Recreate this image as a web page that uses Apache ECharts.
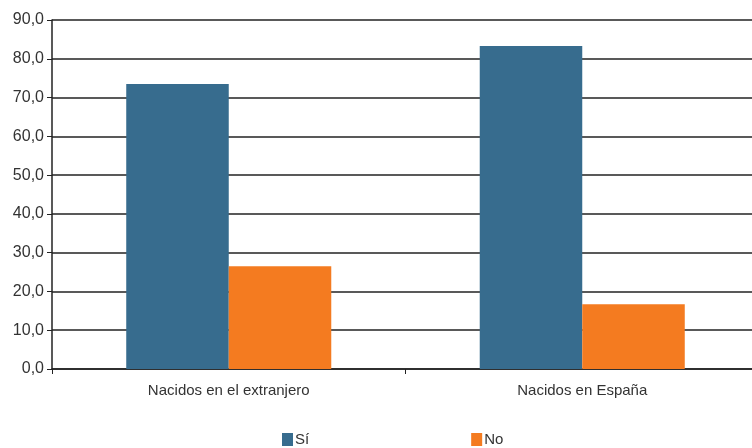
<!DOCTYPE html>
<html><head><meta charset="utf-8">
<script src="https://cdn.jsdelivr.net/npm/echarts@6/dist/echarts.min.js"></script>
<style>html,body{margin:0;padding:0;background:#fff}#c{width:752px;height:448px}</style>
</head><body><div id="c"></div>
<script>
var categories = ['Nacidos en el extranjero', 'Nacidos en España'];
var siValues = [73.5, 83.3];
var noValues = [26.5, 16.7];
var seriesNames = ['Sí', 'No'];
var FONT = "'Liberation Sans Narrow', 'Liberation Sans', Arial, sans-serif";
var chart = echarts.init(document.getElementById('c'), null, {renderer: 'canvas'});
chart.setOption({
  animation: false,
  backgroundColor: '#fff',
  grid: {left: 52, width: 707, top: 20, height: 349, containLabel: false, outerBoundsMode: 'none'},
  legend: {
    top: 427, left: 277, itemGap: 162, itemWidth: 11, itemHeight: 13,
    icon: 'rect',
    textStyle: {fontFamily: FONT, fontSize: 15, color: '#333', padding: [0,0,0,-3]},
    data: seriesNames
  },
  xAxis: {
    type: 'category', data: categories,
    axisLine: {lineStyle: {color: '#222', width: 1.5}},
    axisTick: {show: true, length: 5, lineStyle: {color: '#222'}},
    axisLabel: {fontFamily: FONT, fontSize: 15, color: '#333', margin: 14}
  },
  yAxis: {
    type: 'value', min: 0, max: 90, interval: 10,
    axisLine: {show: true, lineStyle: {color: '#222', width: 1.5}},
    axisTick: {show: true, length: 5, lineStyle: {color: '#222'}},
    axisLabel: {fontFamily: FONT, fontSize: 16, color: '#333', margin: 8,
      formatter: function (v) { return v.toFixed(1).replace('.', ','); }},
    splitLine: {lineStyle: {color: '#222', width: 1.5}}
  },
  series: [
    {name: seriesNames[0], type: 'bar', data: siValues, barGap: '0%', barCategoryGap: '42%',
     itemStyle: {color: '#376C8E'}},
    {name: seriesNames[1], type: 'bar', data: noValues,
     itemStyle: {color: '#F47B20'}}
  ]
});
</script></body></html>
